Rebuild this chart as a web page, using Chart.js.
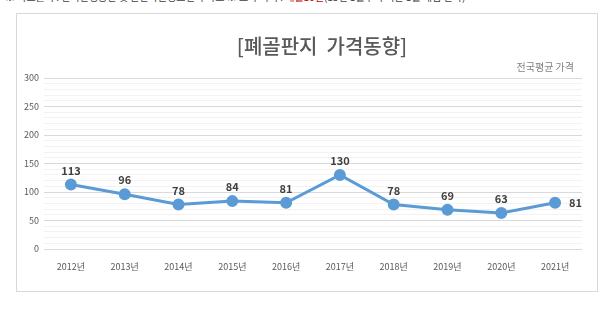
<!DOCTYPE html>
<html>
<head>
<meta charset="utf-8">
<script src="https://cdn.jsdelivr.net/npm/chart.js@4"></script>
<style>
    body { margin: 0; background: #fff; width: 615px; height: 328px; position: relative; overflow: hidden; font-family: "Noto Sans CJK KR", sans-serif; }
    #note { position: absolute; left: 5px; top: -11px; font-size: 10px; color: #404040; white-space: nowrap; }
    #note .red { color: #c00000; }
    #box { position: absolute; left: 16px; top: 13px; width: 580px; height: 277px; border: 1px solid #d9d9d9; }
</style>
</head>
<body>
<div id="note">※ 자료출처 : 한국환경공단 및 순환자원정보센터 자료 ※ 조사 시기 : <span class="red">매월10일</span>(15년 1월부터 기준 1월 매입 단가)</div>
<div id="box"><canvas id="lineChart" width="580" height="277"></canvas></div>
<script>
// 데이터
const anios = ["2012년", "2013년", "2014년", "2015년", "2016년", "2017년", "2018년", "2019년", "2020년", "2021년"];
const precios = [113, 96, 78, 84, 81, 130, 78, 69, 63, 81];
const etiquetasY = [0, 50, 100, 150, 200, 250, 300];

const fuente = "'Noto Sans CJK KR', 'Noto Sans', sans-serif";

// 값 라벨 + 제목 + 부제목
const etiquetasPlugin = {
    id: "etiquetas",
    afterDatasetsDraw(chart) {
        const ctx = chart.ctx;
        const meta = chart.getDatasetMeta(0);
        ctx.save();
        ctx.font = "bold 11px " + fuente;
        ctx.fillStyle = "#404040";
        ctx.textBaseline = "middle";
        meta.data.forEach((p, i) => {
            if (i === meta.data.length - 1) {
                ctx.textAlign = "left";
                ctx.fillText(precios[i], p.x + 14, p.y);
            } else {
                ctx.textAlign = "center";
                ctx.fillText(precios[i], p.x, p.y - 14);
            }
        });
        ctx.font = "500 20px " + fuente;
        ctx.fillStyle = "#595959";
        ctx.textAlign = "center";
        ctx.fillText("[폐골판지  가격동향]", 305, 32);
        ctx.font = "10px " + fuente;
        ctx.fillStyle = "#808080";
        ctx.textAlign = "right";
        ctx.fillText("전국평균 가격", 557, 53);
        ctx.restore();
    }
};

new Chart(document.getElementById("lineChart").getContext("2d"), {
    type: "line",
    data: {
        labels: anios,
        datasets: [{
            data: precios,
            borderColor: "#5b9bd5",
            backgroundColor: "#5b9bd5",
            borderWidth: 3,
            pointRadius: 4.5,
            pointHoverRadius: 4.5,
            tension: 0,
        }],
    },
    options: {
        responsive: false,
        animation: false,
        layout: { padding: { left: 0, right: 15, top: 64, bottom: 0 } },
        plugins: {
            legend: { display: false },
            tooltip: { enabled: false },
        },
        scales: {
            x: {
                offset: true,
                grid: { display: false, drawTicks: false },
                border: { display: false },
                ticks: { color: "#595959", font: { family: fuente, size: 9 }, padding: 12, maxRotation: 0 },
                afterFit(scale) { scale.height = 42; },
            },
            y: {
                min: 0,
                max: 300,
                border: { display: false },
                grid: {
                    drawTicks: false,
                    color: (c) => (etiquetasY.includes(c.tick.value) ? "#d9d9d9" : "#f2f2f2"),
                },
                ticks: {
                    stepSize: 10,
                    autoSkip: false,
                    color: "#595959",
                    font: { family: fuente, size: 9 },
                    padding: 5,
                    callback: (v) => (etiquetasY.includes(v) ? v : ""),
                },
                afterFit(scale) { scale.width = 27; },
            },
        },
    },
    plugins: [etiquetasPlugin],
});
</script>
</body>
</html>
